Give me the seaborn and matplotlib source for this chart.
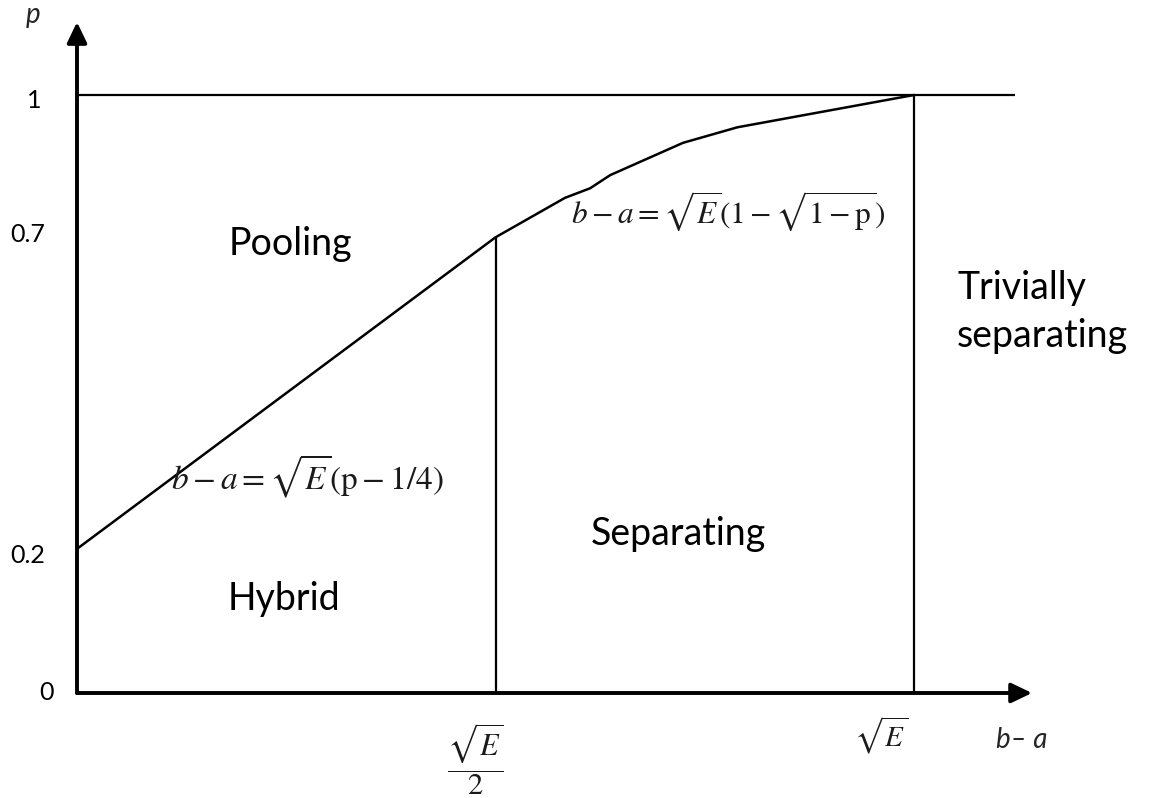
import matplotlib
matplotlib.use("Agg")
import matplotlib.pyplot as plt
from matplotlib.patches import FancyArrowPatch
import seaborn as sns
import pandas as pd

# ---- data (x in units of sqrt(E), y = p) ----
curve_x = [0.0, 0.5, 0.583, 0.613, 0.637, 0.724, 0.789, 1.0]
curve_p = [0.241, 0.762, 0.828, 0.844, 0.866, 0.920, 0.946, 1.0]
boundary_x = [0.5, 1.0]
boundary_top = [0.762, 1.0]
top_line_p = 1.0
top_line_end = 1.121
ytick_pos = [0.0, 0.23, 0.766, 0.99]
ytick_labels = ["0", "0.2", "0.7", "1"]
ytick_right = [-0.028, -0.0375, -0.0375, -0.042]
xtick_pos = [0.4755, 0.9606]
xtick_labels = [r"$\dfrac{\sqrt{E}}{2}$", r"$\sqrt{E}$"]
regions = ["Pooling", "Hybrid", "Separating", "Trivially\nseparating"]
region_x = [0.2545, 0.2467, 0.7186, 1.0514]
region_y = [0.732, 0.1388, 0.2475, 0.5786]
formulas = [r"$b-a=\sqrt{E}(1-\sqrt{1-\mathrm{p}})$", r"$b-a=\sqrt{E}(\mathrm{p}-1/4)$"]
formula_x = [0.778, 0.2754]
formula_y = [0.806, 0.3629]
formula_size = [22.5, 24]

sns.set_theme(style="white")
plt.rcParams["font.family"] = ["Lato", "DejaVu Sans"]
plt.rcParams["mathtext.fontset"] = "stix"

fig = plt.figure(figsize=(11.59, 7.98), dpi=100)
ax = fig.add_axes([0, 0, 1, 1])
ax.set_xlim(-77 / 837, (1159 - 77) / 837)
ax.set_ylim(-105 / 598, 1 + 95 / 598)
ax.axis("off")

df = pd.DataFrame({"x": curve_x, "p": curve_p})
sns.lineplot(data=df, x="x", y="p", sort=False, color="black", lw=1.8, ax=ax)
ax.vlines(boundary_x, 0, boundary_top, color="black", lw=1.6)
ax.hlines(top_line_p, 0, top_line_end, color="black", lw=1.6)

# axes arrows
for start, end in [((0, 0), (0, 1.122)), ((0, 0), (1.141, 0))]:
    ax.add_patch(FancyArrowPatch(start, end, arrowstyle="-|>,head_length=1.25,head_width=0.6",
                                 mutation_scale=10, lw=2.8, color="black",
                                 shrinkA=0, shrinkB=0, zorder=5))

for pos, lab, xr in zip(ytick_pos, ytick_labels, ytick_right):
    ax.text(xr, pos, lab, ha="right", va="center", fontsize=18, color="black")
ax.text(xtick_pos[0], -0.111, xtick_labels[0], ha="center", va="center", fontsize=22, color="#1a1a1a")
ax.text(xtick_pos[1], -0.0702, xtick_labels[1], ha="center", va="center", fontsize=21, color="#1a1a1a")

ax.text(-0.0526, 1.134, "p", style="italic", ha="center", va="center", fontsize=20)
ax.text(1.129, -0.0786, "b– a", style="italic", ha="center", va="center", fontsize=20)

for name, rx, ry in zip(regions, region_x, region_y):
    ha = "left" if "\n" in name else "center"
    ax.text(rx, ry, name, ha=ha, va="baseline", fontsize=27, color="black", linespacing=1.42)

for f, fx, fy, fs in zip(formulas, formula_x, formula_y, formula_size):
    ax.text(fx, fy, f, ha="center", va="center", fontsize=fs, color="#1a1a1a")

fig.savefig("out.png", dpi=100)
